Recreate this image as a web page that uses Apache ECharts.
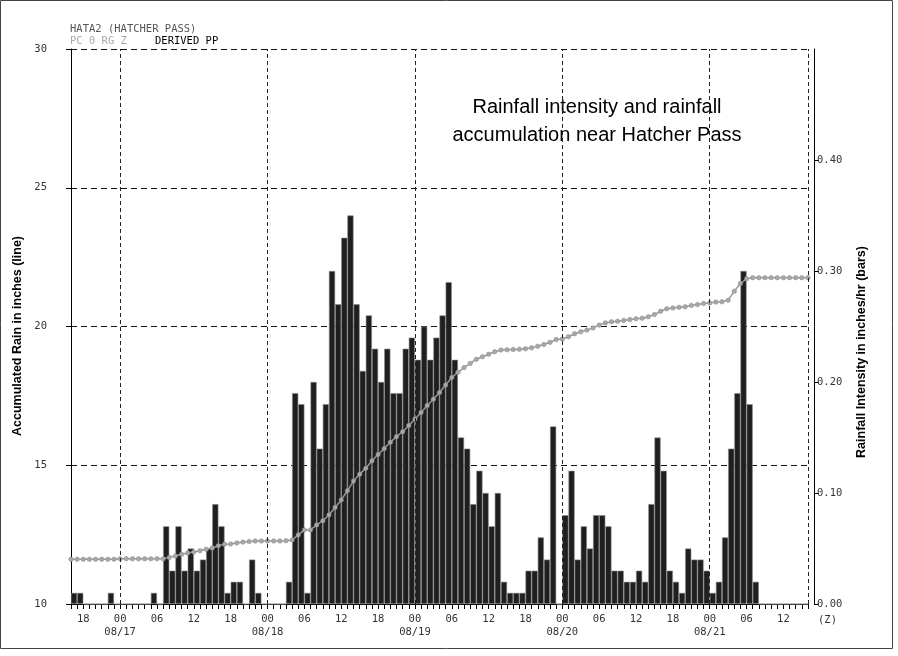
<!DOCTYPE html>
<html><head><meta charset="utf-8">
<script src="https://cdn.jsdelivr.net/npm/echarts@6/dist/echarts.min.js"></script>
<style>html,body{margin:0;padding:0;background:#fff}#c{width:898px;height:656px}</style>
</head><body><div id="c"></div>
<script>
// hours are counted from 00Z 08/17
const firstHour = -8;
const lastHour = 112;
// hourly rainfall intensity (in/hr), one value per hour starting at firstHour
const intensity = [
  0.01,0.01,0,0,0,0,0.01,0,
  0,0,0,0,0,
  0.01,0,
  0.07,0.03,0.07,0.03,0.05,0.03,0.04,0.05,0.09,0.07,
  0.01,0.02,0.02,0,0.04,0.01,0,0,0,0,0.02,
  0.19,0.18,0.01,0.20,0.14,0.18,0.30,0.27,0.33,0.35,
  0.27,0.21,0.26,0.23,0.20,0.23,0.19,0.19,0.23,0.24,
  0.22,0.25,0.22,0.24,0.26,0.29,0.22,0.15,0.14,0.09,
  0.12,0.10,0.07,0.10,0.02,0.01,0.01,0.01,0.03,0.03,
  0.06,0.04,0.16,0,0.08,0.12,0.04,0.07,0.05,0.08,
  0.08,0.07,0.03,0.03,0.02,0.02,0.03,0.02,0.09,0.15,
  0.12,0.03,0.02,0.01,0.05,0.04,0.04,0.03,0.01,0.02,
  0.06,0.14,0.19,0.30,0.18,0.02,
  0,0,0,0,0,0,0,0
];
// accumulated rain (inches), one value per hour mark starting at firstHour
const accumulated = [
  11.61,11.61,11.61,11.61,11.61,11.61,11.61,11.61,
  11.63,11.63,11.63,11.63,11.63,11.63,11.63,11.63,
  11.68,11.73,11.79,11.84,11.87,11.92,11.97,12.02,12.10,12.15,
  12.16,12.20,12.23,12.25,12.27,12.27,12.27,12.27,12.27,12.28,
  12.31,12.49,12.67,12.67,12.85,13.00,13.21,13.48,13.75,14.08,
  14.43,14.68,14.89,15.16,15.39,15.60,15.83,16.03,16.21,16.43,
  16.67,16.90,17.15,17.38,17.62,17.89,18.16,18.35,18.52,18.67,
  18.82,18.91,19.00,19.09,19.15,19.16,19.17,19.18,19.20,19.23,
  19.29,19.35,19.43,19.53,19.55,19.63,19.74,19.81,19.87,19.95,
  20.05,20.13,20.17,20.19,20.22,20.25,20.28,20.30,20.35,20.43,
  20.55,20.64,20.67,20.69,20.71,20.76,20.79,20.83,20.85,20.88,
  20.89,20.95,21.27,21.55,21.72,21.76,
  21.76,21.76,21.76,21.76,21.76,21.76,21.76,21.76,21.76
];
const dayStarts = [0, 24, 48, 72, 96];
const dayLabels = ['08/17', '08/18', '08/19', '08/20', '08/21'];
const hourTickLabels = ['00', '06', '12', '18'];
const leftAxisTicks = [10, 15, 20, 25, 30];
const rightAxisTicks = [0.00, 0.10, 0.20, 0.30, 0.40];

const barData = intensity.map((v, i) => [firstHour + i + 0.5, v]);
const lineData = accumulated.map((v, i) => [firstHour + i, v]);

const mono = "'DejaVu Sans Mono', monospace";
const sans = "'Liberation Sans', Arial, sans-serif";

const chart = echarts.init(document.getElementById('c'), null, {renderer: 'canvas'});
chart.setOption({
  animation: false,
  backgroundColor: '#fff',
  grid: {left: 71, right: 90, top: 49, bottom: 52, containLabel: false},
  xAxis: {
    type: 'value', min: firstHour, max: lastHour, interval: 1,
    axisLine: {show: true, onZero: false, lineStyle: {color: '#000', width: 1}},
    axisTick: {show: true, length: 5, lineStyle: {color: '#000'}},
    splitLine: {show: false},
    axisLabel: {
      margin: 9, fontFamily: mono, fontSize: 10.5, color: '#333', lineHeight: 13,
      showMinLabel: true, showMaxLabel: true,
      formatter: v => {
        const h = ((v % 24) + 24) % 24;
        if (h % 6 !== 0) return '';
        const hh = hourTickLabels[h / 6];
        if (h === 0) {
          const d = dayStarts.indexOf(v);
          return d >= 0 ? hh + '\n' + dayLabels[d] : hh;
        }
        return hh;
      }
    }
  },
  yAxis: [
    {
      type: 'value', position: 'left', min: leftAxisTicks[0], max: leftAxisTicks[leftAxisTicks.length - 1], interval: 5,
      axisLine: {show: true, onZero: false, lineStyle: {color: '#000'}},
      axisTick: {show: true, length: 8, lineStyle: {color: '#000', type: [5, 3]}},
      axisLabel: {margin: 24, fontFamily: mono, fontSize: 10.5, color: '#333'},
      splitLine: {show: true, lineStyle: {color: '#111', type: [6, 4], width: 1}}
    },
    {
      type: 'value', position: 'right', offset: 6, min: 0, max: 0.5, interval: 0.1,
      axisLine: {show: true, onZero: false, lineStyle: {color: '#000'}},
      axisTick: {show: true, length: 5, lineStyle: {color: '#000'}},
      axisLabel: {margin: 3, fontFamily: mono, fontSize: 10.5, color: '#333', showMaxLabel: false,
        formatter: v => (rightAxisTicks.some(t => Math.abs(t - v) < 1e-6) ? v.toFixed(2) : '')},
      splitLine: {show: false}
    }
  ],
  series: [
    {
      type: 'bar', yAxisIndex: 1, data: barData, barWidth: '100%', z: 2,
      itemStyle: {color: '#1f1f1f', borderColor: '#8a8a8a', borderWidth: 0.6},
      markLine: {
        silent: true, symbol: 'none', label: {show: false},
        lineStyle: {color: '#222', type: [4, 3], width: 1},
        data: dayStarts.map(d => ({xAxis: d})).concat([{xAxis: lastHour}])
      }
    },
    {
      type: 'line', yAxisIndex: 0, data: lineData, z: 3,
      symbol: 'circle', symbolSize: 4.5, showSymbol: true,
      lineStyle: {color: '#9a9a9a', width: 1.5},
      itemStyle: {color: '#a8a8a8', borderColor: '#8a8a8a', borderWidth: 0.5}
    }
  ],
  graphic: [
    {type: 'rect', shape: {x: 0.5, y: 0.5, width: 892, height: 648}, style: {fill: 'none', stroke: '#444', lineWidth: 1}, silent: true},
    {type: 'text', left: 70, top: 24, style: {text: 'HATA2 (HATCHER PASS)', font: '10.5px ' + mono, fill: '#555'}},
    {type: 'text', left: 70, top: 36, style: {text: 'PC 0 RG Z', font: '10.5px ' + mono, fill: '#aaa'}},
    {type: 'text', left: 155, top: 36, style: {text: 'DERIVED PP', font: '10.5px ' + mono, fill: '#000'}},
    {type: 'text', x: 597, y: 107, style: {text: 'Rainfall intensity and rainfall', font: '20px ' + sans, fill: '#000', align: 'center', verticalAlign: 'middle'}},
    {type: 'text', x: 597, y: 135, style: {text: 'accumulation near Hatcher Pass', font: '20px ' + sans, fill: '#000', align: 'center', verticalAlign: 'middle'}},
    {type: 'text', x: 18, y: 336, rotation: Math.PI / 2, style: {text: 'Accumulated Rain in inches (line)', font: 'bold 12.5px ' + sans, fill: '#000', align: 'center', verticalAlign: 'middle'}},
    {type: 'text', x: 862, y: 352, rotation: Math.PI / 2, style: {text: 'Rainfall Intensity in inches/hr (bars)', font: 'bold 12.5px ' + sans, fill: '#000', align: 'center', verticalAlign: 'middle'}},
    {type: 'text', x: 818, y: 620, style: {text: '(Z)', font: '10.5px ' + mono, fill: '#333', verticalAlign: 'middle'}}
  ]
});
</script>
</body></html>
